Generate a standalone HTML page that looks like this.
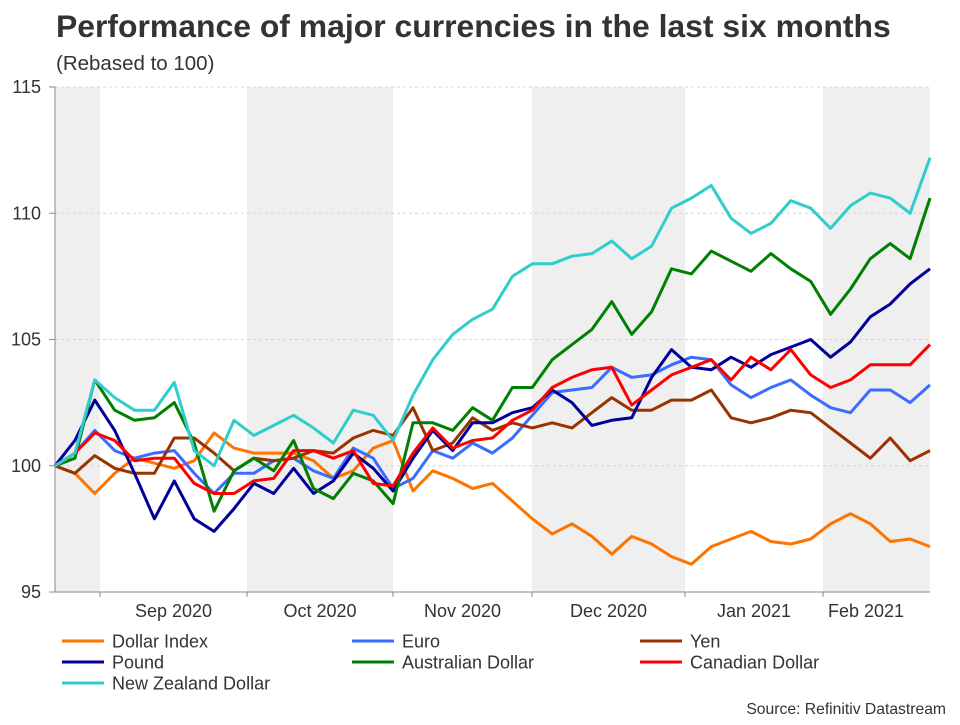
<!DOCTYPE html>
<html><head><meta charset="utf-8"><style>
body{margin:0;background:#fff;font-family:"Liberation Sans",Arial,sans-serif}
svg text{font-family:"Liberation Sans",Arial,sans-serif}
</style></head><body>
<svg id="chart" width="960" height="720" xmlns="http://www.w3.org/2000/svg">
<rect width="960" height="720" fill="#fff"/>
<text x="56" y="37" font-size="31.9" font-weight="bold" fill="#333">Performance of major currencies in the last six months</text>
<text x="56" y="70" font-size="20.5" fill="#333">(Rebased to 100)</text>
<g id="bands"></g><g id="grid"></g><g id="lines"></g><g id="axes"></g><g id="legend"></g>
<text x="946" y="714" font-size="15.7" text-anchor="end" fill="#333">Source: Refinitiv Datastream</text>
</svg>
<script>
const yTicks=[95,100,105,110,115];
const monthLabels=["Sep 2020","Oct 2020","Nov 2020","Dec 2020","Jan 2021","Feb 2021"];
const seriesNames=["Dollar Index","Euro","Yen","Pound","Australian Dollar","Canadian Dollar","New Zealand Dollar"];
const seriesColors=["#ff7300","#3a6cff","#993300","#000099","#008000","#ff0000","#33cccc"];
const dollar=[100,99.7,98.9,99.7,100.3,100.1,99.9,100.2,101.3,100.7,100.5,100.5,100.5,100.2,99.5,99.8,100.7,101,99,99.8,99.5,99.1,99.3,98.6,97.9,97.3,97.7,97.2,96.5,97.2,96.9,96.4,96.1,96.8,97.1,97.4,97,96.9,97.1,97.7,98.1,97.7,97,97.1,96.8];
const euro=[100,100.5,101.4,100.6,100.3,100.5,100.6,99.7,98.9,99.7,99.7,100.2,100.3,99.8,99.5,100.7,100.3,99.1,99.5,100.6,100.3,100.9,100.5,101.1,102,102.9,103,103.1,103.9,103.5,103.6,104,104.3,104.2,103.2,102.7,103.1,103.4,102.8,102.3,102.1,103,103,102.5,103.2];
const yen=[100,99.7,100.4,99.9,99.7,99.7,101.1,101.1,100.5,99.8,100.3,100.2,100.3,100.6,100.5,101.1,101.4,101.2,102.3,100.6,100.9,101.9,101.4,101.7,101.5,101.7,101.5,102.1,102.7,102.2,102.2,102.6,102.6,103,101.9,101.7,101.9,102.2,102.1,101.5,100.9,100.3,101.1,100.2,100.6];
const pound=[100,101,102.6,101.4,99.7,97.9,99.4,97.9,97.4,98.3,99.3,98.9,99.9,98.9,99.4,100.5,99.9,99,100.3,101.4,100.6,101.7,101.7,102.1,102.3,103,102.5,101.6,101.8,101.9,103.5,104.6,103.9,103.8,104.3,103.9,104.4,104.7,105,104.3,104.9,105.9,106.4,107.2,107.8];
const aud=[100,100.3,103.4,102.2,101.8,101.9,102.5,100.9,98.2,99.8,100.3,99.8,101,99.1,98.7,99.7,99.4,98.5,101.7,101.7,101.4,102.3,101.8,103.1,103.1,104.2,104.8,105.4,106.5,105.2,106.1,107.8,107.6,108.5,108.1,107.7,108.4,107.8,107.3,106,107,108.2,108.8,108.2,110.6];
const cad=[100,100.5,101.3,101,100.2,100.3,100.3,99.3,98.9,98.9,99.4,99.5,100.6,100.6,100.3,100.6,99.3,99.2,100.5,101.5,100.7,101,101.1,101.8,102.2,103.1,103.5,103.8,103.9,102.4,103,103.6,103.9,104.2,103.4,104.3,103.8,104.6,103.6,103.1,103.4,104,104,104,104.8];
const nzd=[100,100.5,103.4,102.7,102.2,102.2,103.3,100.6,100,101.8,101.2,101.6,102,101.5,100.9,102.2,102,101,102.8,104.2,105.2,105.8,106.2,107.5,108,108,108.3,108.4,108.9,108.2,108.7,110.2,110.6,111.1,109.8,109.2,109.6,110.5,110.2,109.4,110.3,110.8,110.6,110,112.2];
const allSeries=[dollar,euro,yen,pound,aud,cad,nzd];
const X0=55,X1=930,Y0=87,Y1=592,VMIN=95,VMAX=115;
const xScale=i=>X0+(X1-X0)*i/(dollar.length-1);
const yScale=v=>Y1-(v-VMIN)/(VMAX-VMIN)*(Y1-Y0);
const NS="http://www.w3.org/2000/svg";
function mk(tag,attrs,parent,txt){const e=document.createElementNS(NS,tag);for(const k in attrs)e.setAttribute(k,attrs[k]);if(txt!==undefined)e.textContent=txt;parent.appendChild(e);return e;}
const bandsG=document.getElementById('bands'),gridG=document.getElementById('grid'),linesG=document.getElementById('lines'),axesG=document.getElementById('axes'),legG=document.getElementById('legend');
const bandEdges=[55,100,247,393,532,685,823,930];
for(let i=0;i<bandEdges.length-1;i++){const r=mk('rect',{x:bandEdges[i],y:Y0,width:bandEdges[i+1]-bandEdges[i],height:Y1-Y0,fill:i%2==0?'#efefef':'#ffffff'},bandsG);

}
for(let i=1;i<bandEdges.length-1;i++){mk('line',{x1:bandEdges[i],x2:bandEdges[i],y1:Y1,y2:Y1+5,stroke:'#888'},axesG);}
yTicks.forEach(t=>{const y=yScale(t);
const l=mk('line',{x1:X0,x2:X1,y1:y,y2:y,stroke:'#d6d6d6','stroke-dasharray':'3,3','stroke-width':1},gridG);


mk('line',{x1:X0-6,x2:X0,y1:y,y2:y,stroke:'#888'},axesG);
const tx=mk('text',{x:41,y:y+6,'font-size':18,'text-anchor':'end',fill:'#333'},axesG,String(t));

});
const ax=mk('line',{x1:X0,x2:X0,y1:Y0,y2:Y1,stroke:'#888'},axesG);


const bx=mk('line',{x1:X0,x2:X1,y1:Y1,y2:Y1,stroke:'#888'},axesG);


monthLabels.forEach((m,i)=>{const cx=i<5?(bandEdges[i+1]+bandEdges[i+2])/2:866;
const tx=mk('text',{x:cx,y:617,'font-size':18,'text-anchor':'middle',fill:'#333'},axesG,m);

});
allSeries.forEach((s,k)=>{const d=s.map((v,i)=>(i?'L':'M')+xScale(i).toFixed(1)+','+yScale(v).toFixed(1)).join('');
const p=mk('path',{d:d,fill:'none',stroke:seriesColors[k],'stroke-width':3,'stroke-linejoin':'round'},linesG);

});
const colX=[62,352,640];
seriesNames.forEach((n,k)=>{const cx=colX[k%3],cy=641+Math.floor(k/3)*21;
const g=mk('g',{},legG);


mk('line',{x1:cx,x2:cx+42,y1:cy,y2:cy,stroke:seriesColors[k],'stroke-width':3},g);
mk('text',{x:cx+50,y:cy+6.5,'font-size':18,fill:'#333'},g,n);});
</script>
</body></html>
